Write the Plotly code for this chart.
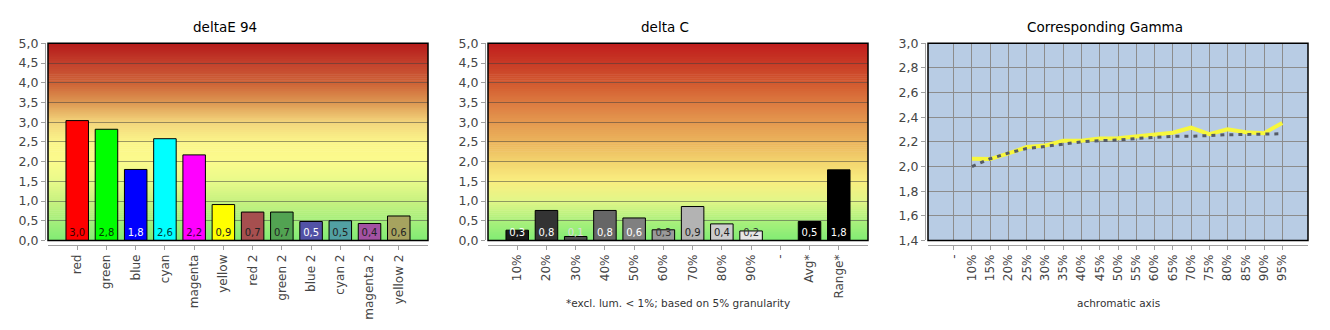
import plotly.graph_objects as go

W, H = 1330, 330

# ---------------- data ----------------
DE_CATS = ["red", "green", "blue", "cyan", "magenta", "yellow",
           "red 2", "green 2", "blue 2", "cyan 2", "magenta 2", "yellow 2"]
DE_VALS = [3.04, 2.82, 1.80, 2.58, 2.17, 0.91, 0.72, 0.72, 0.48, 0.50, 0.43, 0.62]
DE_COLORS = ["#ff0000", "#00ff00", "#0000ff", "#00ffff", "#ff00ff", "#ffff00",
             "#a64f4f", "#52a352", "#5252a6", "#52a0a3", "#a352a3", "#a6a35f"]
DE_TEXTCOL = ["#3a0000", "#003a00", "#ffffff", "#003a3a", "#3a003a", "#222222",
              "#222222", "#222222", "#ffffff", "#222222", "#222222", "#222222"]

DC_CATS = ["10%", "20%", "30%", "40%", "50%", "60%", "70%", "80%", "90%", "-", "Avg*", "Range*"]
DC_VALS = [0.26, 0.76, 0.10, 0.76, 0.57, 0.27, 0.86, 0.42, 0.24, None, 0.48, 1.79]
DC_COLORS = ["#1a1a1a", "#333333", "#4d4d4d", "#666666", "#808080", "#999999",
             "#b3b3b3", "#cccccc", "#e6e6e6", "#ffffff", "#000000", "#000000"]
DC_TEXTCOL = ["#ffffff", "#ffffff", "#dddddd", "#ffffff", "#ffffff", "#333333",
              "#222222", "#222222", "#333333", "#222222", "#ffffff", "#ffffff"]

G_CATS = ["-", "10%", "15%", "20%", "25%", "30%", "35%", "40%", "45%", "50%",
          "55%", "60%", "65%", "70%", "75%", "80%", "85%", "90%", "95%"]
G_MEAS = [None, 2.063, 2.060, 2.106, 2.158, 2.170, 2.209, 2.209, 2.227, 2.230,
          2.245, 2.253, 2.274, 2.315, 2.263, 2.302, 2.279, 2.271, 2.353]
G_TARGET = [None, 2.000, 2.063, 2.110, 2.146, 2.163, 2.184, 2.200, 2.210, 2.215,
            2.227, 2.237, 2.245, 2.245, 2.253, 2.258, 2.260, 2.263, 2.266]

# gradient stops (fraction of plot height from bottom, colour)
GRAD_LEFT = [(0.0, (128, 236, 116)), (0.1, (166, 238, 124)), (0.2, (200, 242, 128)),
             (0.3, (232, 250, 138)), (0.4, (251, 251, 140)), (0.5, (251, 245, 138)),
             (0.6, (243, 213, 124)), (0.7, (221, 151, 82)), (0.8, (206, 98, 54)),
             (0.9, (195, 64, 44)), (1.0, (181, 26, 26))]
GRAD_MID = [(0.0, (128, 236, 116)), (0.1, (172, 240, 124)), (0.2, (226, 246, 136)),
            (0.3, (249, 238, 128)), (0.4, (243, 212, 110)), (0.5, (235, 180, 92)),
            (0.6, (228, 152, 79)), (0.7, (220, 122, 64)), (0.8, (210, 89, 47)),
            (0.9, (200, 58, 38)), (1.0, (192, 28, 28))]

FONT = "DejaVu Sans"
TICKC = "#454545"
AXC = "#a0a0a0"
GRIDC = "rgba(60,60,60,0.5)"

PT, PB = 37, 243.5
ydom = [(H - PB) / H, (H - PT) / H]
xdoms = [[48 / W, 428 / W], [488 / W, 868 / W], [928 / W, 1308 / W]]


def lerp_col(stops, f):
    for (f0, c0), (f1, c1) in zip(stops[:-1], stops[1:]):
        if f0 <= f <= f1:
            t = (f - f0) / (f1 - f0) if f1 > f0 else 0
            c = [round(a + (b - a) * t) for a, b in zip(c0, c1)]
            return "rgb(%d,%d,%d)" % tuple(c)
    return "rgb(%d,%d,%d)" % stops[-1][1]


fig = go.Figure()
shapes = []
annotations = []

# ---------- bar charts ----------
for i, (cats, vals, cols, tcols, grad) in enumerate([
        (DE_CATS, DE_VALS, DE_COLORS, DE_TEXTCOL, GRAD_LEFT),
        (DC_CATS, DC_VALS, DC_COLORS, DC_TEXTCOL, GRAD_MID)]):
    xa = "x" if i == 0 else "x%d" % (i + 1)
    ya = "y" if i == 0 else "y%d" % (i + 1)
    fig.add_trace(go.Bar(x=cats, y=vals, marker=dict(color=cols, line=dict(color="#000000", width=1)),
                         width=0.77, xaxis=xa, yaxis=ya, hoverinfo="skip", showlegend=False))
    labels = [("%.1f" % v).replace(".", ",") if v is not None else "" for v in vals]
    fig.add_trace(go.Scatter(x=cats, y=[0.18] * len(cats), mode="text", text=labels,
                             textfont=dict(family=FONT, size=10, color=tcols),
                             xaxis=xa, yaxis=ya, hoverinfo="skip", showlegend=False))
    n = 100
    for k in range(n):
        f0, f1 = k / n, (k + 1) / n
        shapes.append(dict(type="rect", xref=xa + " domain", yref=ya + " domain",
                           x0=0, x1=1, y0=f0, y1=min(1, f1 + 0.003), layer="below",
                           fillcolor=lerp_col(grad, (f0 + f1) / 2), line=dict(width=0)))

# gamma chart background
shapes.append(dict(type="rect", xref="x3 domain", yref="y3 domain", x0=0, x1=1, y0=0, y1=1,
                   layer="below", fillcolor="#b8cce4", line=dict(width=0)))

# ---------- gamma chart ----------
fig.add_trace(go.Scatter(x=G_CATS, y=G_MEAS, mode="lines", line=dict(color="#f7f73c", width=4),
                         xaxis="x3", yaxis="y3", hoverinfo="skip", showlegend=False, connectgaps=False))
fig.add_trace(go.Scatter(x=G_CATS, y=G_TARGET, mode="lines", line=dict(color="#555b66", width=3, dash="4px,5px"),
                         xaxis="x3", yaxis="y3", hoverinfo="skip", showlegend=False, connectgaps=False))

# frames
for i in range(3):
    xa = "x" if i == 0 else "x%d" % (i + 1)
    ya = "y" if i == 0 else "y%d" % (i + 1)
    shapes.append(dict(type="rect", xref=xa + " domain", yref=ya + " domain", x0=0, x1=1, y0=0, y1=1,
                       layer="above", line=dict(color="#000000", width=1.5), fillcolor="rgba(0,0,0,0)"))

# titles
for xc, t in [(225, "deltaE 94"), (665, "delta C"), (1105, "Corresponding Gamma")]:
    annotations.append(dict(text=t, x=xc / W, y=(H - 20) / H, xref="paper", yref="paper",
                            xanchor="center", yanchor="middle", showarrow=False,
                            font=dict(family=FONT, size=13.5, color="#000000")))
annotations.append(dict(text="*excl. lum. < 1%; based on 5% granularity", x=678 / W, y=(H - 309) / H,
                        xref="paper", yref="paper", xanchor="center", yanchor="middle", showarrow=False,
                        font=dict(family=FONT, size=10.5, color="#333333")))
annotations.append(dict(text="achromatic axis", x=1118 / W, y=(H - 309) / H,
                        xref="paper", yref="paper", xanchor="center", yanchor="middle", showarrow=False,
                        font=dict(family=FONT, size=10.5, color="#333333")))

xpos = (H - 248) / H
common_x = dict(type="category", anchor="free", position=xpos, showline=True, linecolor=AXC,
                ticks="outside", ticklen=4, tickcolor=AXC, tickangle=-90,
                tickfont=dict(family=FONT, size=12, color=TICKC), showgrid=False, zeroline=False,
                fixedrange=True)
common_y = dict(anchor="free", showline=True, linecolor=AXC, ticks="outside", ticklen=4, tickcolor=AXC,
                tickfont=dict(family=FONT, size=12.5, color=TICKC), tickformat=".1f",
                showgrid=True, gridcolor=GRIDC, gridwidth=1, zeroline=False, fixedrange=True, domain=ydom)

layout = dict(width=W, height=H, margin=dict(l=0, r=0, t=0, b=0), paper_bgcolor="#ffffff",
              plot_bgcolor="#ffffff", separators=",.", shapes=shapes, annotations=annotations,
              bargap=0.2, showlegend=False)

layout["xaxis"] = dict(common_x, domain=xdoms[0], range=[-1, 12], categoryarray=DE_CATS,
                       categoryorder="array")
layout["xaxis2"] = dict(common_x, domain=xdoms[1], range=[-1, 12], categoryarray=DC_CATS,
                        categoryorder="array")
layout["xaxis3"] = dict(common_x, domain=xdoms[2], range=[-1.41, 19.41], categoryarray=G_CATS,
                        categoryorder="array", showgrid=True, gridcolor="#8c8c8c", gridwidth=1)
layout["yaxis"] = dict(common_y, position=45 / W, range=[0, 5], dtick=0.5, tick0=0)
layout["yaxis2"] = dict(common_y, position=485 / W, range=[0, 5], dtick=0.5, tick0=0)
layout["yaxis3"] = dict(common_y, position=925 / W, range=[1.4, 3.0], dtick=0.2, tick0=1.4,
                        gridcolor="#8c8c8c")

fig.update_layout(layout)
fig.write_html("out.html")
